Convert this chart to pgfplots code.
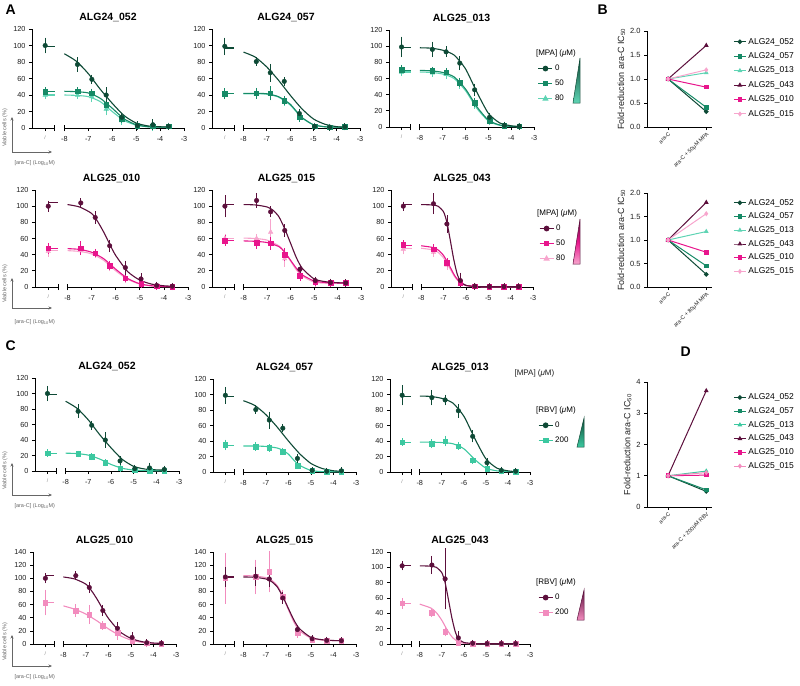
\documentclass[border=0pt]{standalone}
\usepackage{pgfplots}
\pgfplotsset{compat=1.18}
\usepackage{fontspec}
\setmainfont{Liberation Sans}
\usetikzlibrary{arrows.meta}
\definecolor{g0}{RGB}{14,74,54}
\definecolor{g50}{RGB}{22,138,102}
\definecolor{g80}{RGB}{95,212,180}
\definecolor{gR}{RGB}{60,200,160}
\definecolor{m0}{RGB}{92,15,60}
\definecolor{m50}{RGB}{232,21,140}
\definecolor{m80}{RGB}{247,165,205}
\definecolor{mR}{RGB}{242,140,190}
\definecolor{tx}{RGB}{30,30,30}
\pgfplotsset{
 dr/.style={scale only axis, anchor=south west, clip=false,
  xmin=-9.35, xmax=-3, ymin=0, ymax=120,
  axis lines*=left, axis line style={-, line width=0.7pt},
  x axis line style={draw=none},
  tick align=outside, major tick length=3pt,
  tick style={line width=0.7pt, black},
  xtick={-8.8,-8,-7,-6,-5,-4,-3},
  xticklabels={{\textcolor{gray}{\fontsize{5}{5}\selectfont/}},-8,-7,-6,-5,-4,-3},
  ytick distance=20,
  ticklabel style={font=\fontsize{7.3}{8}\selectfont, text=tx},
  xticklabel style={yshift=-1.5pt},
  /pgf/number format/assume math mode=true,
  title style={font=\bfseries\fontsize{10.5}{11}\selectfont, yshift=-2pt},
  legend style={draw=none, fill=none, font=\fontsize{8}{9}\selectfont, anchor=north west, row sep=4pt},
  legend cell align=left,
  legend image code/.code={\draw[mark repeat=2,mark phase=2,##1] plot coordinates {(0pt,0pt) (7pt,0pt) (14pt,0pt)};},
 },
 pts/.style={only marks, mark size=2.3pt, error bars/y dir=both, error bars/y explicit,
  error bars/error bar style={line width=0.8pt},
  error bars/error mark options={mark size=3pt, line width=0.8pt}},
 crv/.style={no marks, smooth, tension=0.4, line width=1.1pt},
 ctl/.style={no marks, line width=1.1pt},
 fr/.style={scale only axis, anchor=south west, clip=false,
  axis lines*=left, axis line style={-, line width=0.7pt},
  xmin=-0.55, xmax=1.15, ymin=0, xtick={0,1},
  tick align=outside, major tick length=3pt, tick style={line width=0.7pt, black},
  ticklabel style={font=\fontsize{7.5}{8}\selectfont, text=tx},
  xticklabel style={font=\fontsize{5.5}{6}\selectfont, rotate=45, anchor=north east, inner sep=1pt},
  /pgf/number format/assume math mode=true,
  ylabel={Fold-reduction ara-C IC\textsubscript{50}},
  ylabel style={font=\fontsize{9}{10}\selectfont, text=tx, yshift=-2pt},
  legend style={draw=none, fill=none, font=\fontsize{8.5}{9}\selectfont, anchor=north west, row sep=3pt},
  legend cell align=left,
  legend image code/.code={\draw[mark repeat=2,mark phase=2,##1] plot coordinates {(0pt,0pt) (6pt,0pt) (12pt,0pt)};},
  every axis plot/.append style={line width=1pt, mark size=1.8pt},
 },
}
\newcommand\xbrk{%
 \draw[line width=0.7pt] (axis cs:-9.35,0) -- (axis cs:-8.4,0) (axis cs:-8,0) -- (axis cs:-3,0);%
 \draw[line width=0.7pt] ([yshift=-3pt]axis cs:-8.4,0) -- ([yshift=3pt]axis cs:-8.4,0) ([yshift=-3pt]axis cs:-8,0) -- ([yshift=3pt]axis cs:-8,0);}
\newcommand\pts[2]{\addplot[pts,#1] table[row sep=\\,y error=e]{x y e\\#2};}
\newcommand\crv[3]{\addplot[crv,#1] coordinates {#3};\addplot[ctl,#1] coordinates {(-8.8,#2) (-8.4,#2)};}
\begin{document}
\begin{tikzpicture}
\useasboundingbox (0,0) rectangle (800pt,-685pt);
% ---------------- A row 1
\begin{axis}[dr, at={(32pt,-128pt)}, width=152pt, height=99pt, title={ALG24\_052}]
\xbrk
\crv{g80}{40}{(-8,40)(-7.5,39.5)(-7,38)(-6.5,32)(-6,20)(-5.5,9)(-5,3.5)(-4.5,1.5)(-4,1)(-3.65,1)}
\crv{g50}{44}{(-8,44.5)(-7.5,44)(-7,42.5)(-6.5,36)(-6,24)(-5.5,11)(-5,4)(-4.5,1.5)(-4,1)(-3.65,1)}
\crv{g0}{99}{(-8,90)(-7.5,81)(-7,66)(-6.5,47)(-6,30)(-5.5,15)(-5,6)(-4.5,2.5)(-4,1.5)(-3.65,1.2)}
\pts{g80,mark=triangle*,mark size=2.6pt}{-8.8 40 1.5\\-7.45 40 1\\-6.85 38 3\\-6.25 23 4\\-5.6 9 1.5\\-4.95 3 1\\-4.3 1.5 1\\-3.65 2 0.5\\}
\pts{g50,mark=square*}{-8.8 44 1.5\\-7.45 44.5 1\\-6.85 42 2\\-6.25 28 4\\-5.6 11 1.5\\-4.95 3 1\\-4.3 2 1\\-3.65 2 0.5\\}
\pts{g0,mark=*}{-8.8 100 6\\-7.45 77 5\\-6.85 59 2\\-6.25 40 6\\-5.6 13 2\\-4.95 3 1.5\\-4.3 4 3\\-3.65 2 1\\}
\end{axis}
\begin{axis}[dr, at={(212pt,-128pt)}, width=148pt, height=99pt, title={ALG24\_057}]
\xbrk
\crv{g80}{41.5}{(-8,41.5)(-7.5,41.5)(-7,41)(-6.5,37.5)(-6,28)(-5.5,12.5)(-5,4)(-4.5,1.5)(-4,1)(-3.65,1)}
\crv{g50}{42}{(-8,42)(-7.5,42)(-7,41.5)(-6.5,38)(-6,29)(-5.5,13)(-5,4)(-4.5,1.5)(-4,1)(-3.65,1)}
\crv{g0}{97}{(-8,92)(-7.5,86)(-7,74)(-6.5,58)(-6,40)(-5.5,23.5)(-5,11)(-4.5,4.5)(-4,1.6)(-3.65,1)}
\pts{g80,mark=triangle*,mark size=2.6pt}{-8.8 40 1.5\\-7.45 41 1\\-6.85 41 1.5\\-6.25 32 1.5\\-5.6 12 1\\-4.95 2 0.5\\-4.3 1 0.5\\-3.65 1.5 0.5\\}
\pts{g50,mark=square*}{-8.8 41.5 3\\-7.45 42 3\\-6.85 42 5\\-6.25 33 2\\-5.6 13 2\\-4.95 2 0.5\\-4.3 1 0.5\\-3.65 1.5 0.5\\}
\pts{g0,mark=*}{-8.8 99 7\\-7.45 80.5 1.5\\-6.85 67 7\\-6.25 56.5 1.5\\-5.6 17.5 1.5\\-4.95 2 0.5\\-4.3 1 0.5\\-3.65 1.5 0.5\\}
\end{axis}
\begin{axis}[dr, at={(389pt,-127pt)}, width=145pt, height=97pt, title={ALG25\_013},
  legend style={at={(1.005,0.84)}}]
\addlegendimage{empty legend}\addlegendentry{\hspace*{-19pt}[MPA] (\textit{μ}M)}
\addlegendimage{g0,mark=*,line width=1.1pt,mark size=2.3pt}\addlegendentry{0}
\addlegendimage{g50,mark=square*,line width=1.1pt,mark size=2.3pt}\addlegendentry{50}
\addlegendimage{g80,mark=triangle*,line width=1.1pt,mark size=2.6pt}\addlegendentry{80}
\xbrk
\crv{g80}{68}{(-8,68)(-7.5,67.5)(-7,65.5)(-6.5,60)(-6,45)(-5.5,23)(-5,7.5)(-4.5,2)(-4,0.7)(-3.65,0.5)}
\crv{g50}{70}{(-8,70)(-7.5,69.5)(-7,67.5)(-6.5,62)(-6,47)(-5.5,25)(-5,8.5)(-4.5,2.5)(-4,0.8)(-3.65,0.5)}
\crv{g0}{98}{(-8,98)(-7.5,97.5)(-7,95)(-6.5,89)(-6,72)(-5.5,43)(-5,17)(-4.5,5)(-4,1.5)(-3.65,0.5)}
\pts{g80,mark=triangle*,mark size=2.6pt}{-8.8 68 1.5\\-7.45 67 1\\-6.85 65 1.5\\-6.25 53 2\\-5.6 28 2\\-4.95 7 1\\-4.3 1.5 0.5\\-3.65 1 0.5\\}
\pts{g50,mark=square*}{-8.8 71 2\\-7.45 70 1\\-6.85 68 1.5\\-6.25 55 2\\-5.6 30 2\\-4.95 8 1\\-4.3 1.5 0.5\\-3.65 1 0.5\\}
\pts{g0,mark=*}{-8.8 99 9\\-7.45 96 6\\-6.85 93 3\\-6.25 79 5\\-5.6 46 4\\-4.95 12 2\\-4.3 2 1\\-3.65 1 0.5\\}
\end{axis}
% ---------------- A row 2
\begin{axis}[dr, at={(35pt,-287pt)}, width=153pt, height=97pt, title={ALG25\_010}]
\xbrk
\crv{m80}{45}{(-8,45)(-7.5,44)(-7,41)(-6.5,33)(-6,20)(-5.5,9.5)(-5,3.5)(-4.5,1.3)(-4,0.5)(-3.65,0.4)}
\crv{m50}{48}{(-8,47.5)(-7.5,46.5)(-7,43)(-6.5,35)(-6,22)(-5.5,10.5)(-5,4)(-4.5,1.5)(-4,0.6)(-3.65,0.4)}
\crv{m0}{104}{(-8,102)(-7.5,99)(-7,91)(-6.75,81)(-6.5,68)(-6.25,53)(-6,39)(-5.5,19)(-5,8.5)(-4.5,3.5)(-4,1.5)(-3.65,1)}
\pts{m80,mark=triangle*,mark size=2.6pt}{-8.8 44 3\\-7.45 45 2\\-6.85 41 1.5\\-6.25 25 2\\-5.6 10 1.5\\-4.95 3 1\\-4.3 1 0.5\\-3.65 0.5 0.5\\}
\pts{m50,mark=square*}{-8.8 48 3\\-7.45 48 5\\-6.85 42 1.5\\-6.25 26.5 2\\-5.6 11 1.5\\-4.95 4 1\\-4.3 1 0.5\\-3.65 0.5 0.5\\}
\pts{m0,mark=*}{-8.8 100 3\\-7.45 104 2\\-6.85 86 4\\-6.25 51 4\\-5.6 24 5\\-4.95 10 3\\-4.3 2 1\\-3.65 1 0.5\\}
\end{axis}
\begin{axis}[dr, at={(212pt,-287pt)}, width=149pt, height=97pt, title={ALG25\_015}]
\xbrk
\crv{m80}{60.5}{(-8,60.5)(-7.5,60)(-7,58)(-6.5,51)(-6.25,43)(-6,32)(-5.75,21)(-5.5,13.5)(-5,6)(-4.5,4.7)(-4,4.5)(-3.65,4.5)}
\crv{m50}{57}{(-8,57)(-7.5,56.5)(-7,55)(-6.5,50)(-6.25,43)(-6,33)(-5.75,23)(-5.5,15)(-5,7.5)(-4.5,5.5)(-4,5)(-3.65,5)}
\crv{m0}{102}{(-8,102)(-7.5,101.5)(-7,99)(-6.75,95)(-6.5,87)(-6.25,72)(-6,54)(-5.75,36)(-5.5,23)(-5,10)(-4.5,6.5)(-4,5.3)(-3.65,5)}
\pts{m80,mark=triangle*,mark size=2.6pt}{-8.8 60 2\\-7.45 60 2\\-6.85 68 12\\-6.25 35 6\\-5.6 14 2\\-4.95 5 1\\-4.3 4.5 1\\-3.65 4.5 1\\}
\pts{m50,mark=square*}{-8.8 57.5 3\\-7.45 55 4\\-6.85 54 4\\-6.25 40 4\\-5.6 14 3\\-4.95 6 1\\-4.3 5 1\\-3.65 5 1\\}
\pts{m0,mark=*}{-8.8 100 10\\-7.45 107 5\\-6.85 93 3\\-6.25 70 4\\-5.6 22 2\\-4.95 8 1\\-4.3 5.5 1\\-3.65 5 1\\}
\end{axis}
\begin{axis}[dr, at={(391pt,-287pt)}, width=142pt, height=97pt, title={ALG25\_043},
  legend style={at={(1.02,0.84)}}]
\addlegendimage{empty legend}\addlegendentry{\hspace*{-19pt}[MPA] (\textit{μ}M)}
\addlegendimage{m0,mark=*,line width=1.1pt,mark size=2.3pt}\addlegendentry{0}
\addlegendimage{m50,mark=square*,line width=1.1pt,mark size=2.3pt}\addlegendentry{50}
\addlegendimage{m80,mark=triangle*,line width=1.1pt,mark size=2.6pt}\addlegendentry{80}
\xbrk
\crv{m80}{48}{(-8,48)(-7.5,46)(-7.25,43)(-7,36)(-6.75,24.5)(-6.5,12.5)(-6.25,5)(-6,1.8)(-5.5,0.5)(-5,0.3)(-4,0.3)(-3.65,0.3)}
\crv{m50}{51}{(-8,51)(-7.5,49)(-7.25,46)(-7,39)(-6.75,27)(-6.5,14)(-6.25,5.5)(-6,2)(-5.5,0.5)(-5,0.3)(-4,0.3)(-3.65,0.3)}
\crv{m0}{102}{(-8,102)(-7.5,101.5)(-7.25,100)(-7,93)(-6.85,80)(-6.7,58)(-6.55,35)(-6.4,17)(-6.25,7)(-6,2)(-5.5,0.5)(-5,0.3)(-4,0.3)(-3.65,0.3)}
\pts{m80,mark=triangle*,mark size=2.6pt}{-8.8 47 3\\-7.45 43 2\\-6.85 27 2\\-6.25 4 1.5\\-5.6 0.5 0.3\\-4.95 0.5 0.3\\-4.3 0.5 0.3\\-3.65 0.5 0.3\\}
\pts{m50,mark=square*}{-8.8 52 2\\-7.45 47 2\\-6.85 30 2\\-6.25 5 2\\-5.6 1 0.5\\-4.95 0.5 0.3\\-4.3 0.5 0.3\\-3.65 0.5 0.3\\}
\pts{m0,mark=*}{-8.8 100 2\\-7.45 103 9\\-6.85 78 7\\-6.25 8 6\\-5.6 1 0.5\\-4.95 0.5 0.3\\-4.3 0.5 0.3\\-3.65 0.5 0.3\\}
\end{axis}
% ---------------- C row 1
\begin{axis}[dr, at={(35pt,-471pt)}, width=144pt, height=93pt, title={ALG24\_052}]
\xbrk
\crv{gR}{23}{(-8,23)(-7.5,22.5)(-7,20.5)(-6.5,15.5)(-6,8.5)(-5.5,3.5)(-5,1.2)(-4.5,0.5)(-4,0.3)(-3.65,0.3)}
\crv{g0}{99}{(-8,90)(-7.5,81)(-7,66)(-6.5,47)(-6,30)(-5.5,15)(-5,6)(-4.5,2.5)(-4,1.5)(-3.65,1.2)}
\pts{gR,mark=square*}{-8.8 23 1\\-7.45 22 0.5\\-6.85 18.5 0.5\\-6.25 10.5 0.5\\-5.6 3.5 0.5\\-4.95 1 0.3\\-4.3 0.5 0.3\\-3.65 0.5 0.3\\}
\pts{g0,mark=*}{-8.8 100 6\\-7.45 77 5\\-6.85 59 2\\-6.25 40 6\\-5.6 13 2\\-4.95 3 1.5\\-4.3 4 3\\-3.65 2 1\\}
\end{axis}
\begin{axis}[dr, at={(213pt,-472pt)}, width=143pt, height=93pt, title={ALG24\_057}]
\xbrk
\crv{gR}{34}{(-8,33.5)(-7.5,33.5)(-7,33)(-6.5,31)(-6.25,28)(-6,23)(-5.75,15)(-5.5,8.5)(-5,2)(-4.5,0.5)(-4,0.3)(-3.65,0.3)}
\crv{g0}{97}{(-8,92)(-7.5,86)(-7,74)(-6.5,58)(-6,40)(-5.5,23.5)(-5,11)(-4.5,4.5)(-4,1.6)(-3.65,1)}
\pts{gR,mark=square*}{-8.8 35 3\\-7.45 33 1.5\\-6.85 31 1\\-6.25 26.5 1\\-5.6 8.5 1\\-4.95 1.5 0.5\\-4.3 0.5 0.3\\-3.65 0.5 0.3\\}
\pts{g0,mark=*}{-8.8 99 7\\-7.45 80.5 1.5\\-6.85 67 7\\-6.25 56.5 1.5\\-5.6 17.5 1.5\\-4.95 2 0.5\\-4.3 1 0.5\\-3.65 1.5 0.5\\}
\end{axis}
\begin{axis}[dr, at={(390pt,-472pt)}, width=140pt, height=93pt, title={ALG25\_013},
  legend style={at={(1.035,0.75)}}]
\addlegendimage{empty legend}\addlegendentry{\hspace*{-19pt}[RBV] (\textit{μ}M)}
\addlegendimage{g0,mark=*,line width=1.1pt,mark size=2.3pt}\addlegendentry{0}
\addlegendimage{gR,mark=square*,line width=1.1pt,mark size=2.3pt}\addlegendentry{200}
\xbrk
\crv{gR}{38.5}{(-8,38.5)(-7.5,38.5)(-7,38)(-6.5,36.5)(-6,30)(-5.5,16)(-5,5)(-4.5,1.5)(-4,0.5)(-3.65,0.3)}
\crv{g0}{98}{(-8,98)(-7.5,97.5)(-7,95)(-6.5,89)(-6,72)(-5.5,43)(-5,17)(-4.5,5)(-4,1.5)(-3.65,0.5)}
\pts{gR,mark=square*}{-8.8 38.5 1\\-7.45 36.5 2\\-6.85 40 3\\-6.25 33.5 1\\-5.6 15 1\\-4.95 4 0.5\\-4.3 1 0.3\\-3.65 0.5 0.3\\}
\pts{g0,mark=*}{-8.8 99 9\\-7.45 96 6\\-6.85 93 3\\-6.25 79 5\\-5.6 46 4\\-4.95 12 2\\-4.3 2 1\\-3.65 1 0.5\\}
\end{axis}
% ---------------- C row 2
\begin{axis}[dr, at={(33pt,-644pt)}, width=143pt, height=92pt, ymax=140, title={ALG25\_010}]
\xbrk
\crv{mR}{63}{(-8,58)(-7.5,53)(-7,45.5)(-6.5,35)(-6,23)(-5.5,13)(-5,6)(-4.5,2.5)(-4,1)(-3.65,0.5)}
\crv{m0}{104}{(-8,102)(-7.5,99)(-7,91)(-6.75,81)(-6.5,68)(-6.25,53)(-6,39)(-5.5,19)(-5,8.5)(-4.5,3.5)(-4,1.5)(-3.65,1)}
\pts{mR,mark=square*}{-8.8 63 15\\-7.45 51 5\\-6.85 45 10\\-6.25 28 2\\-5.6 17 6\\-4.95 5 2\\-4.3 1 0.5\\-3.65 0.5 0.3\\}
\pts{m0,mark=*}{-8.8 100 3\\-7.45 104 2\\-6.85 86 4\\-6.25 51 4\\-5.6 24 5\\-4.95 10 3\\-4.3 2 1\\-3.65 1 0.5\\}
\end{axis}
\begin{axis}[dr, at={(213pt,-644pt)}, width=143pt, height=92pt, ymax=140, title={ALG25\_015}]
\xbrk
\crv{mR}{103}{(-8,104)(-7.5,103.5)(-7,101)(-6.75,97)(-6.5,89)(-6.25,73)(-6,52)(-5.75,33)(-5.5,20)(-5,9)(-4.5,6)(-4,5.2)(-3.65,5)}
\crv{m0}{102}{(-8,102)(-7.5,101.5)(-7,99)(-6.75,95)(-6.5,87)(-6.25,72)(-6,54)(-5.75,36)(-5.5,23)(-5,10)(-4.5,6.5)(-4,5.3)(-3.65,5)}
\pts{mR,mark=square*}{-8.8 100 34\\-7.45 102 22\\-6.85 110 27\\-6.25 72 6\\-5.6 17 3\\-4.95 7 1\\-4.3 5 1\\-3.65 5 1\\}
\pts{m0,mark=*}{-8.8 102 10\\-7.45 103 10\\-6.85 99 7\\-6.25 70 4\\-5.6 22 2\\-4.95 8 1\\-4.3 5.5 1\\-3.65 5 1\\}
\end{axis}
\begin{axis}[dr, at={(390pt,-644pt)}, width=140pt, height=92pt, title={ALG25\_043},
  legend style={at={(1.035,0.755)}}]
\addlegendimage{empty legend}\addlegendentry{\hspace*{-19pt}[RBV] (\textit{μ}M)}
\addlegendimage{m0,mark=*,line width=1.1pt,mark size=2.3pt}\addlegendentry{0}
\addlegendimage{mR,mark=square*,line width=1.1pt,mark size=2.3pt}\addlegendentry{200}
\xbrk
\crv{mR}{53}{(-8,52)(-7.5,47)(-7.25,41)(-7,31)(-6.75,18)(-6.5,8)(-6.25,3)(-6,1)(-5.5,0.3)(-5,0.3)(-4,0.3)(-3.65,0.3)}
\crv{m0}{102}{(-8,102)(-7.5,101.5)(-7.25,100)(-7,93)(-6.85,80)(-6.7,58)(-6.55,35)(-6.4,17)(-6.25,7)(-6,2)(-5.5,0.5)(-5,0.3)(-4,0.3)(-3.65,0.3)}
\pts{mR,mark=square*}{-8.8 53 3\\-7.45 41 2\\-6.85 16 2\\-6.25 2 1\\-5.6 0.5 0.3\\-4.95 0.5 0.3\\-4.3 0.5 0.3\\-3.65 0.5 0.3\\}
\pts{m0,mark=*}{-8.8 102 2\\-7.45 103 8\\-6.85 85 36\\-6.25 8 5\\-5.6 1 0.5\\-4.95 0.5 0.3\\-4.3 0.5 0.3\\-3.65 0.5 0.3\\}
\end{axis}
% ---------------- B
\begin{axis}[fr, at={(647pt,-127pt)}, width=65pt, height=96pt, ymax=2, ytick distance=0.5,
  yticklabel style={/pgf/number format/.cd, fixed, fixed zerofill, precision=1},
  xticklabels={ara-C, ara-C + 50μM MPA}, legend style={at={(1.28,0.97)}}]
\addplot[g0,mark=*] coordinates {(0,1) (1,0.32)}; \addlegendentry{ALG24\_052}
\addplot[g50,mark=square*] coordinates {(0,1) (1,0.41)}; \addlegendentry{ALG24\_057}
\addplot[g80,mark=triangle*] coordinates {(0,1) (1,1.13)}; \addlegendentry{ALG25\_013}
\addplot[m0,mark=triangle*] coordinates {(0,1) (1,1.70)}; \addlegendentry{ALG25\_043}
\addplot[m50,mark=square*] coordinates {(0,1) (1,0.83)}; \addlegendentry{ALG25\_010}
\addplot[m80,mark=diamond*] coordinates {(0,1) (1,1.19)}; \addlegendentry{ALG25\_015}
\end{axis}
\begin{axis}[fr, at={(647pt,-287pt)}, width=65pt, height=94pt, ymax=2, ytick distance=0.5,
  yticklabel style={/pgf/number format/.cd, fixed, fixed zerofill, precision=1},
  xticklabels={ara-C, ara-C + 80μM MPA}, legend style={at={(1.28,0.98)}, row sep=2.3pt}]
\addplot[g0,mark=*] coordinates {(0,1) (1,0.27)}; \addlegendentry{ALG24\_052}
\addplot[g50,mark=square*] coordinates {(0,1) (1,0.45)}; \addlegendentry{ALG24\_057}
\addplot[g80,mark=triangle*] coordinates {(0,1) (1,1.18)}; \addlegendentry{ALG25\_013}
\addplot[m0,mark=triangle*] coordinates {(0,1) (1,1.80)}; \addlegendentry{ALG25\_043}
\addplot[m50,mark=square*] coordinates {(0,1) (1,0.74)}; \addlegendentry{ALG25\_010}
\addplot[m80,mark=diamond*] coordinates {(0,1) (1,1.56)}; \addlegendentry{ALG25\_015}
\end{axis}
% ---------------- D
\begin{axis}[fr, at={(647pt,-507pt)}, width=65pt, height=125pt, ymax=4, ytick distance=1,
  xticklabels={ara-C, ara-C + 200μM RBV}, legend style={at={(1.28,0.94)}, row sep=2.3pt}]
\addplot[g0,mark=*] coordinates {(0,1) (1,0.50)}; \addlegendentry{ALG24\_052}
\addplot[g50,mark=square*] coordinates {(0,1) (1,0.55)}; \addlegendentry{ALG24\_057}
\addplot[gR,mark=triangle*] coordinates {(0,1) (1,1.15)}; \addlegendentry{ALG25\_013}
\addplot[m0,mark=triangle*] coordinates {(0,1) (1,3.72)}; \addlegendentry{ALG25\_043}
\addplot[m50,mark=square*] coordinates {(0,1) (1,1.02)}; \addlegendentry{ALG25\_010}
\addplot[mR,mark=diamond*] coordinates {(0,1) (1,1.10)}; \addlegendentry{ALG25\_015}
\end{axis}
% ---------------- decorations
\begin{scope}[x=1pt,y=-1pt]
\foreach \cy/\ty/\ly in {152/117/163, 308/278/322, 495/463/506, 666/635/677}{
  \draw[-{Stealth[length=3.5pt,width=3pt]}, line width=0.5pt, gray!80!black] (12,\cy) -- (12,\ty);
  \draw[-{Stealth[length=3.5pt,width=3pt]}, line width=0.5pt, gray!80!black] (12,\cy) -- (52,\cy);
  \node[rotate=90, font=\fontsize{5.5}{6}\selectfont, text=gray!80!black] at (5,\cy-24) {Viable cells (\%)};
  \node[font=\fontsize{5.5}{6}\selectfont, text=gray!80!black, anchor=west] at (11,\ly) {[ara-C] (Log\textsubscript{10}M)};
}
\node[font=\bfseries\fontsize{14}{14}\selectfont, anchor=west] at (2,10) {A};
\node[font=\bfseries\fontsize{14}{14}\selectfont, anchor=west] at (594,10) {B};
\node[font=\bfseries\fontsize{14}{14}\selectfont, anchor=west] at (2,346) {C};
\node[font=\bfseries\fontsize{14}{14}\selectfont, anchor=west] at (677,352) {D};
\node[font=\fontsize{8}{9}\selectfont, anchor=west, text=tx] at (511,373) {[MPA] (\textit{μ}M)};
\shade[top color=g0, bottom color=g80] (580,58) -- (580,103) -- (573,103) -- cycle;
\draw[g0, line width=0.5pt] (580,58) -- (580,103) -- (573,103) -- cycle;
\shade[top color=m0, bottom color=m80, middle color=m50] (580,219) -- (580,264) -- (573,264) -- cycle;
\draw[m0, line width=0.5pt] (580,219) -- (580,264) -- (573,264) -- cycle;
\shade[top color=g0, bottom color=gR] (584,418) -- (584,447) -- (577,447) -- cycle;
\draw[g0, line width=0.5pt] (584,418) -- (584,447) -- (577,447) -- cycle;
\shade[top color=m0, bottom color=mR] (584,590) -- (584,620) -- (577,620) -- cycle;
\draw[m0, line width=0.5pt] (584,590) -- (584,620) -- (577,620) -- cycle;
\end{scope}
\end{tikzpicture}
\end{document}
